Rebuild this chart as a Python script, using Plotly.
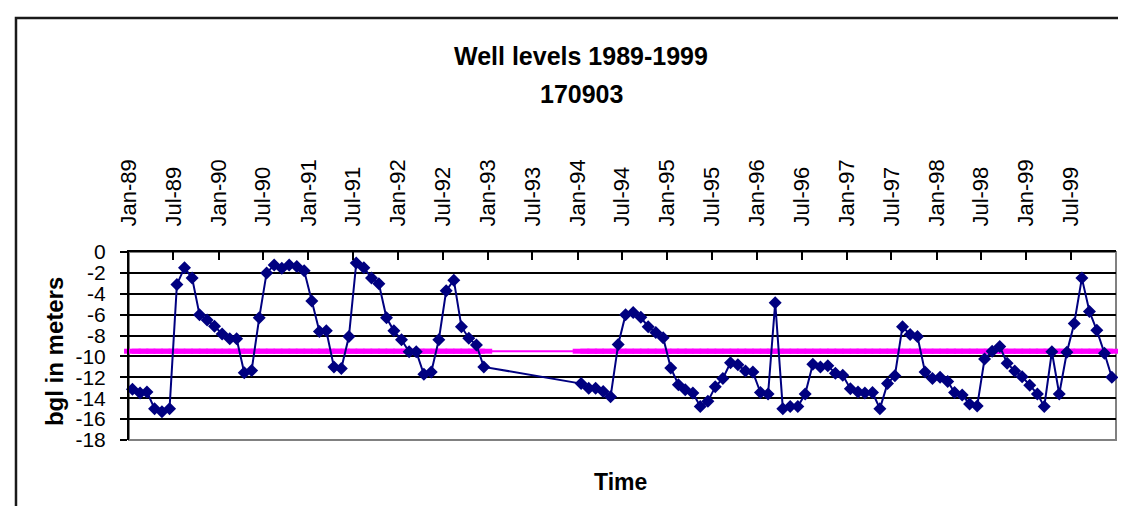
import pandas as pd
import plotly.graph_objects as go

# monthly well readings, metres below ground level (no readings in 1993)
levels_1989_1992 = [
    -13.15, -13.5, -13.4, -15.0, -15.3, -15.0, -3.1, -1.5, -2.5, -6.0, -6.5, -7.1,
    -7.85, -8.3, -8.3, -11.55, -11.35, -6.3, -2.0, -1.25, -1.55, -1.25, -1.4, -1.8,
    -4.7, -7.6, -7.55, -11.0, -11.15, -8.1, -1.05, -1.5, -2.5, -3.05, -6.3, -7.55,
    -8.4, -9.55, -9.55, -11.7, -11.5, -8.4, -3.7, -2.7, -7.15, -8.25, -8.9, -11.0,
]
levels_1994_1999 = [
    -12.6, -13.05, -13.05, -13.35, -13.85, -8.85, -6.0, -5.8, -6.25, -7.15, -7.7, -8.2,
    -11.1, -12.7, -13.2, -13.5, -14.8, -14.3, -12.9, -12.1, -10.6, -10.8, -11.4, -11.5,
    -13.45, -13.6, -4.85, -15.0, -14.8, -14.8, -13.6, -10.75, -11.0, -10.9, -11.6, -11.8,
    -13.1, -13.4, -13.5, -13.45, -15.0, -12.6, -11.85, -7.15, -7.9, -8.1, -11.5, -12.1,
    -12.0, -12.4, -13.45, -13.7, -14.55, -14.75, -10.25, -9.5, -9.05, -10.65, -11.4, -11.95,
    -12.75, -13.6, -14.8, -9.55, -13.6, -9.6, -6.85, -2.5, -5.7, -7.5, -9.7, -12.0,
]
mean_level = -9.5

tick_labels = [
    "Jan-89", "Jul-89", "Jan-90", "Jul-90", "Jan-91", "Jul-91", "Jan-92", "Jul-92",
    "Jan-93", "Jul-93", "Jan-94", "Jul-94", "Jan-95", "Jul-95", "Jan-96", "Jul-96",
    "Jan-97", "Jul-97", "Jan-98", "Jul-98", "Jan-99", "Jul-99",
]
y_ticks = [0, -2, -4, -6, -8, -10, -12, -14, -16, -18]

mid = pd.Timedelta(days=14)
dates = list(pd.date_range("1989-01-01", periods=len(levels_1989_1992), freq="MS") + mid) + \
        list(pd.date_range("1994-01-01", periods=len(levels_1994_1999), freq="MS") + mid)
levels = levels_1989_1992 + levels_1994_1999
tick_dates = pd.date_range("1989-01-01", periods=len(tick_labels), freq="6MS")

FONT = "Liberation Sans, Arial, sans-serif"

fig = go.Figure()

fig.add_trace(go.Scatter(
    x=dates, y=[mean_level] * len(dates),
    mode="lines+markers",
    line=dict(color="#FF00FF", width=2),
    marker=dict(symbol="line-ew", size=12, line=dict(color="#FF00FF", width=5)),
    cliponaxis=False, showlegend=False,
))

fig.add_trace(go.Scatter(
    x=dates, y=levels,
    mode="lines+markers",
    line=dict(color="#000080", width=2),
    marker=dict(symbol="diamond", size=10, color="#000080"),
    cliponaxis=False, showlegend=False,
))

fig.update_xaxes(
    type="date", side="top", range=["1989-01-01", "2000-01-01"],
    tickvals=tick_dates, ticktext=tick_labels, tickangle=-90,
    ticks="inside", ticklen=8, tickcolor="black", tickwidth=1.5,
    ticklabelstandoff=19,
    showline=True, linecolor="black", linewidth=2,
    showgrid=False, zeroline=False, automargin=False,
    tickfont=dict(family=FONT, size=22, color="black"),
)
fig.update_yaxes(
    range=[-18, 0], tickvals=y_ticks, ticktext=[str(v) for v in y_ticks],
    ticks="outside", ticklen=7, tickcolor="black", tickwidth=1.5,
    ticklabelstandoff=10,
    showline=True, linecolor="black", linewidth=2,
    showgrid=True, gridcolor="black", gridwidth=1.5, zeroline=False,
    automargin=False,
    tickfont=dict(family=FONT, size=21, color="black"),
)

bold = dict(family=FONT, color="black")
label = dict(xref="paper", yref="paper", xanchor="center", yanchor="middle", showarrow=False)
fig.update_layout(
    width=1126, height=506,
    margin=dict(l=121, r=18, t=244, b=74),
    paper_bgcolor="white", plot_bgcolor="white",
    shapes=[
        # plot area border (grey on the right and bottom)
        dict(type="rect", xref="paper", yref="paper", x0=0, x1=1, y0=0, y1=1,
             line=dict(color="#808080", width=2), layer="below"),
        # chart area border, runs past the window on the right and bottom
        dict(type="rect", xref="paper", yref="paper", x0=-0.1145, x1=1.06, y0=-0.5, y1=2.245,
             line=dict(color="#1a1a1a", width=2.5)),
    ],
    annotations=[
        dict(text="<b>Well levels 1989-1999</b>", x=0.458, y=2.045,
             font=dict(size=25, **bold), **label),
        dict(text="<b>170903</b>", x=0.458, y=1.840,
             font=dict(size=25, **bold), **label),
        dict(text="<b>Time</b>", x=0.4975, y=-0.223,
             font=dict(size=23, **bold), **label),
        dict(text="<b>bgl in meters</b>", x=-0.076, y=0.473, textangle=-90,
             font=dict(size=24, **bold), **label),
    ],
)

fig.write_html("out.html")
